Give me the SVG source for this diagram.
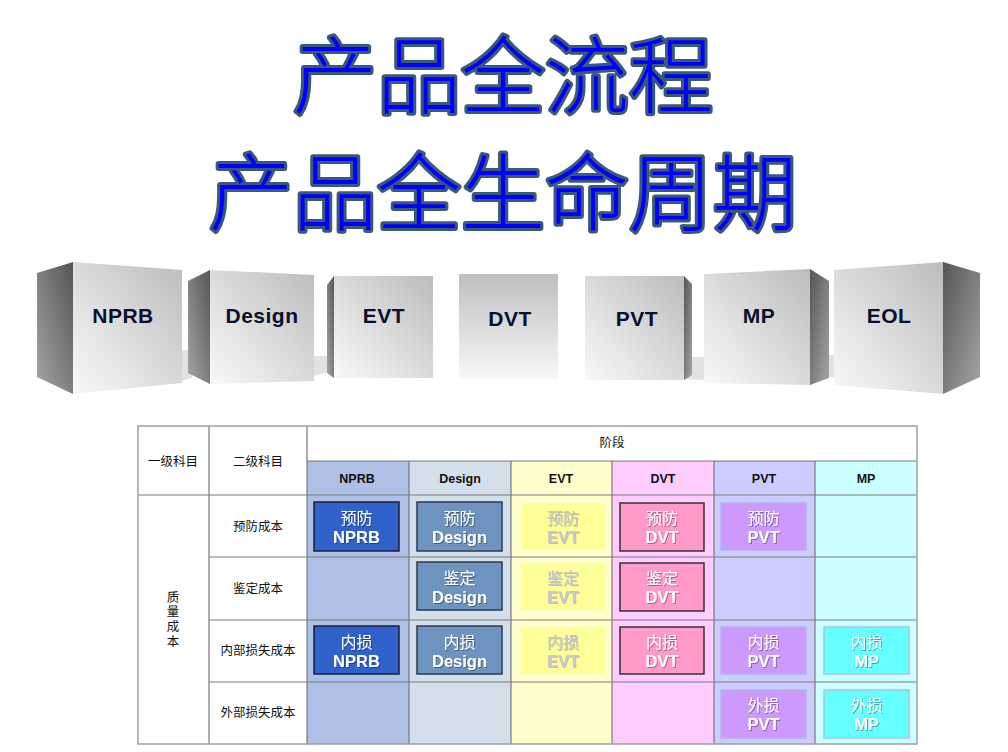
<svg xmlns="http://www.w3.org/2000/svg" width="1008" height="752" viewBox="0 0 1008 752">
<defs>
<linearGradient id="gFront" x1="1" y1="0" x2="0" y2="1"><stop offset="0" stop-color="#bcbcbc"/><stop offset="1" stop-color="#f9f9f9"/></linearGradient>
<linearGradient id="gSideL" x1="1" y1="0" x2="0" y2="1"><stop offset="0" stop-color="#555"/><stop offset="1" stop-color="#a6a6a6"/></linearGradient>
<linearGradient id="gSideR" x1="0" y1="0" x2="1" y2="1"><stop offset="0" stop-color="#555"/><stop offset="1" stop-color="#a6a6a6"/></linearGradient>
<linearGradient id="gDVT" x1="0" y1="0" x2="0" y2="1"><stop offset="0" stop-color="#bfbfbf"/><stop offset="1" stop-color="#f8f8f8"/></linearGradient>
<filter id="ts" x="-10%" y="-10%" width="130%" height="130%"><feDropShadow dx="1" dy="1" stdDeviation="0.4" flood-color="#000" flood-opacity="0.35"/></filter>
<filter id="tsl" x="-10%" y="-10%" width="130%" height="130%"><feDropShadow dx="1" dy="1" stdDeviation="0.4" flood-color="#888" flood-opacity="0.5"/></filter>
</defs>
<style>
.title{font-family:"Noto Sans CJK SC","Noto Sans CJK JP",sans-serif;font-weight:300;font-size:84px;fill:#0000ff;stroke:#3a5878;stroke-width:6;stroke-linejoin:round;paint-order:stroke fill;text-anchor:middle}
.front{fill:url(#gFront)}
.sideL{fill:url(#gSideL)}
.sideR{fill:url(#gSideR)}
.floor{fill:#e2e2e2}
.cube{font-family:"Liberation Sans",Arial,sans-serif;font-weight:bold;font-size:21px;fill:#0b0f2e;text-anchor:middle;letter-spacing:0.5px}
.cj{font-family:"Noto Sans CJK SC","Noto Sans CJK JP",sans-serif;font-size:12.5px;fill:#111;text-anchor:middle}
.hd{font-family:"Liberation Sans",Arial,sans-serif;font-weight:bold;font-size:12.5px;fill:#111;text-anchor:middle}
.grid{stroke:#7a7a7a;stroke-width:1.2;fill:none}
.outer{stroke:#a0a0a0;stroke-width:1.5;fill:none}
.bt{text-anchor:middle;fill:#fff;filter:url(#ts)}
.bt .c{font-family:"Noto Sans CJK SC","Noto Sans CJK JP",sans-serif;font-size:16px}
.bt .l{font-family:"Liberation Sans",Arial,sans-serif;font-weight:bold;font-size:16.5px}
.btE{fill:#c8c8c8;filter:url(#tsl)}
.bN{fill:#3162cc;stroke:#1a1f3a;stroke-width:1.5}
.bD{fill:#6d93be;stroke:#2a3a50;stroke-width:1.5}
.bE{fill:#ffff99}
.bV{fill:#ff99c9;stroke:#333;stroke-width:1.5}
.bP{fill:#cc99ff;stroke:#b4b4ee;stroke-width:1.5}
.bM{fill:#66ffff;stroke:#a8c4ee;stroke-width:1.5}
</style>
<rect width="1008" height="752" fill="#fff"/>
<g id="title">
<text class="title" x="503" y="107">产品全流程</text>
<text class="title" x="503" y="224">产品全生命周期</text>
</g>
<g id="floor-shadows">
<polygon class="floor" points="182,350 192,350 192,378 182,381"/>
<polygon class="floor" points="314,356 328,356 328,372 314,376"/>
<polygon class="floor" points="684,357 706,357 706,380 684,379"/>
<polygon class="floor" points="829,355 836,355 836,377 829,377"/>
</g>
<g id="cube-nprb">
<polygon class="sideL" points="37,273 73,262 73,394 37,377"/>
<polygon class="front" points="73,262 182,270 182,383 73,394"/>
<text class="cube" x="123" y="323">NPRB</text>
</g>
<g id="cube-design">
<polygon class="sideL" points="188,281 210,270 210,384 188,373"/>
<polygon class="front" points="210,270 314,275 314,381 210,384"/>
<text class="cube" x="262" y="323">Design</text>
</g>
<g id="cube-evt">
<polygon class="sideL" points="327,285 334,276 334,378 327,373"/>
<polygon class="front" points="334,276 433,276 433,378 334,378"/>
<text class="cube" x="384" y="323">EVT</text>
</g>
<g id="cube-dvt">
<rect x="459" y="274" width="99" height="105" fill="url(#gDVT)"/>
<text class="cube" x="510" y="326">DVT</text>
</g>
<g id="cube-pvt">
<polygon class="front" points="585,276 684,276 684,380 585,380"/>
<polygon class="sideR" points="684,276 692,284 692,375 684,380"/>
<text class="cube" x="637" y="326">PVT</text>
</g>
<g id="cube-mp">
<polygon class="front" points="704,274 810,269 810,385 704,383"/>
<polygon class="sideR" points="810,269 829,281 829,378 810,385"/>
<text class="cube" x="759" y="323">MP</text>
</g>
<g id="cube-eol">
<polygon class="front" points="834,270 943,262 943,394 834,385"/>
<polygon class="sideR" points="943,262 980,273 980,377 943,394"/>
<text class="cube" x="889" y="323">EOL</text>
</g>
<g id="connectors"/>
<g id="table">
<rect x="138" y="426" width="779" height="318" fill="#fff"/>
<rect x="307" y="461" width="102" height="283" fill="#afbfe5"/>
<rect x="409" y="461" width="102" height="283" fill="#d3dfeb"/>
<rect x="511" y="461" width="101" height="283" fill="#ffffcc"/>
<rect x="612" y="461" width="102" height="283" fill="#ffccff"/>
<rect x="714" y="461" width="101" height="283" fill="#ccccff"/>
<rect x="815" y="461" width="102" height="283" fill="#ccffff"/>
<path class="grid" d="M307 461H917M138 495H917M209 557H917M209 620H917M209 682H917M209 426V744M307 426V744M409 461V744M511 461V744M612 461V744M714 461V744M815 461V744"/>
<rect class="outer" x="138" y="426" width="779" height="318"/>
<text class="cj" x="173" y="466">一级科目</text>
<text class="cj" x="258" y="466">二级科目</text>
<text class="cj" x="612" y="447">阶段</text>
<text class="hd" x="357" y="483">NPRB</text>
<text class="hd" x="460" y="483">Design</text>
<text class="hd" x="561" y="483">EVT</text>
<text class="hd" x="663" y="483">DVT</text>
<text class="hd" x="764" y="483">PVT</text>
<text class="hd" x="866" y="483">MP</text>
<text class="cj" x="258" y="531">预防成本</text>
<text class="cj" x="258" y="593">鉴定成本</text>
<text class="cj" x="258" y="655">内部损失成本</text>
<text class="cj" x="258" y="717">外部损失成本</text>
<text class="cj" x="173" y="620" writing-mode="vertical-rl" letter-spacing="2.2">质量成本</text>
</g>
<g id="row-prevention">
<rect class="bN" x="314" y="502" width="85" height="49"/>
<text class="bt" x="356.5"><tspan class="c" x="356.5" y="524">预防</tspan><tspan class="l" x="356.5" y="543">NPRB</tspan></text>
<rect class="bD" x="417" y="502" width="85" height="49"/>
<text class="bt" x="459.5"><tspan class="c" x="459.5" y="524">预防</tspan><tspan class="l" x="459.5" y="543">Design</tspan></text>
<rect class="bE" x="521" y="503" width="84" height="47"/>
<text class="bt btE" x="563"><tspan class="c" x="563" y="524">预防</tspan><tspan class="l" x="563" y="543">EVT</tspan></text>
<rect class="bV" x="620" y="503" width="84" height="48"/>
<text class="bt" x="662"><tspan class="c" x="662" y="524">预防</tspan><tspan class="l" x="662" y="543">DVT</tspan></text>
<rect class="bP" x="721" y="503" width="85" height="47"/>
<text class="bt" x="763.5"><tspan class="c" x="763.5" y="524">预防</tspan><tspan class="l" x="763.5" y="543">PVT</tspan></text>
</g>
<g id="row-appraisal">
<rect class="bD" x="417" y="562" width="85" height="48"/>
<text class="bt" x="459.5"><tspan class="c" x="459.5" y="584">鉴定</tspan><tspan class="l" x="459.5" y="603">Design</tspan></text>
<rect class="bE" x="521" y="563" width="84" height="47"/>
<text class="bt btE" x="563"><tspan class="c" x="563" y="584">鉴定</tspan><tspan class="l" x="563" y="603">EVT</tspan></text>
<rect class="bV" x="620" y="563" width="84" height="48"/>
<text class="bt" x="662"><tspan class="c" x="662" y="584">鉴定</tspan><tspan class="l" x="662" y="603">DVT</tspan></text>
</g>
<g id="row-internal">
<rect class="bN" x="314" y="626" width="85" height="48"/>
<text class="bt" x="356.5"><tspan class="c" x="356.5" y="648">内损</tspan><tspan class="l" x="356.5" y="667">NPRB</tspan></text>
<rect class="bD" x="417" y="626" width="85" height="48"/>
<text class="bt" x="459.5"><tspan class="c" x="459.5" y="648">内损</tspan><tspan class="l" x="459.5" y="667">Design</tspan></text>
<rect class="bE" x="521" y="627" width="84" height="47"/>
<text class="bt btE" x="563"><tspan class="c" x="563" y="648">内损</tspan><tspan class="l" x="563" y="667">EVT</tspan></text>
<rect class="bV" x="620" y="627" width="84" height="47"/>
<text class="bt" x="662"><tspan class="c" x="662" y="648">内损</tspan><tspan class="l" x="662" y="667">DVT</tspan></text>
<rect class="bP" x="721" y="627" width="85" height="47"/>
<text class="bt" x="763.5"><tspan class="c" x="763.5" y="648">内损</tspan><tspan class="l" x="763.5" y="667">PVT</tspan></text>
<rect class="bM" x="824" y="627" width="85" height="47"/>
<text class="bt" x="866.5"><tspan class="c" x="866.5" y="648">内损</tspan><tspan class="l" x="866.5" y="667">MP</tspan></text>
</g>
<g id="row-external">
<rect class="bP" x="721" y="690" width="85" height="48"/>
<text class="bt" x="763.5"><tspan class="c" x="763.5" y="711">外损</tspan><tspan class="l" x="763.5" y="730">PVT</tspan></text>
<rect class="bM" x="824" y="690" width="85" height="48"/>
<text class="bt" x="866.5"><tspan class="c" x="866.5" y="711">外损</tspan><tspan class="l" x="866.5" y="730">MP</tspan></text>
</g>
</svg>
